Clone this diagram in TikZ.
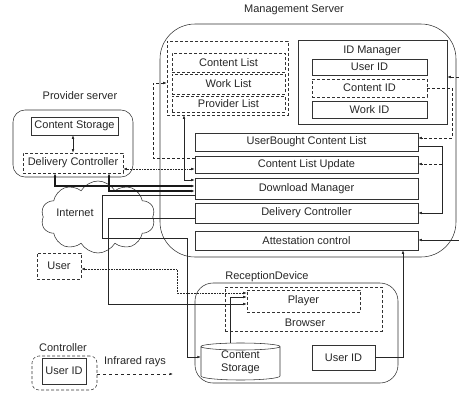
\documentclass[tikz,border=0pt]{standalone}
\usepackage{fontspec}
\setmainfont{Liberation Sans}
\usetikzlibrary{arrows.meta,shapes.symbols}
\begin{document}
\begin{tikzpicture}[x=1pt,y=-1pt,
  font=\fontsize{11}{12}\selectfont,
  every node/.style={text=black!85},
  box/.style={draw=black!80,line width=0.55pt,inner sep=0pt},
  dbox/.style={box,densely dashed},
  rbox/.style={box,rounded corners=#1},
  lbl/.style={inner sep=0pt},
  conn/.style={draw=black!85,line width=0.55pt},
  heavy/.style={draw=black!90,line width=1.1pt},
  tip/.style={-{Latex[length=3.5pt,width=2.6pt]}},
  tips/.style={{Latex[length=3.5pt,width=2.6pt]}-{Latex[length=3.5pt,width=2.6pt]}}]
\useasboundingbox (0,0) rectangle (459,392);

% ---------- Management server ----------
\node[lbl] (mslbl) at (294,10) {Management Server};
\node[rbox=35pt, minimum width=296pt, minimum height=233pt] (mgmt) at (308,140.5) {};

\node[dbox, minimum width=121pt, minimum height=74pt] (lists) at (227.5,78) {};
\node[dbox, minimum width=113pt, minimum height=19pt] (CL) at (228.5,62.5) {Content List};
\node[dbox, minimum width=113pt, minimum height=20pt] (WL) at (228.5,84) {Work List};
\node[dbox, minimum width=113pt, minimum height=16pt] (PL) at (228.5,104) {Provider List};

\node[box, minimum width=149pt, minimum height=84pt] (idm) at (372.5,82) {};
\node[lbl] (idmlbl) at (372,51) {ID Manager};
\node[box, minimum width=115pt, minimum height=16pt] (UID) at (369.5,67) {User ID};
\node[dbox, minimum width=115pt, minimum height=18pt] (CID) at (369.5,88) {Content ID};
\node[box, minimum width=115pt, minimum height=17pt] (WID) at (369.5,109.5) {Work ID};

\node[box, minimum width=223pt, minimum height=18pt] (UBCL) at (306.5,142) {UserBought Content List};
\node[box, minimum width=223pt, minimum height=17pt] (CLU) at (306.5,164.5) {Content List Update};
\node[box, minimum width=223pt, minimum height=21pt] (DM) at (306.5,188.5) {Download Manager};
\node[box, minimum width=223pt, minimum height=20pt] (MDC) at (306.5,213) {Delivery Controller};
\node[box, minimum width=223pt, minimum height=19pt] (AC) at (306.5,240.5) {Attestation control};

% ---------- Provider server ----------
\node[lbl] (provlbl) at (80,96) {Provider server};
\node[rbox=12pt, minimum width=120pt, minimum height=67pt] (prov) at (73,143.5) {};
\node[box, minimum width=87pt, minimum height=18pt] (CS) at (74.5,126) {Content Storage};
\node[dbox, minimum width=100pt, minimum height=20pt] (PDC) at (73,163) {Delivery Controller};

% ---------- Internet ----------
\node[cloud, draw=black!80, line width=0.55pt, cloud puffs=10, cloud puff arc=120,
      aspect=1.6, minimum width=114pt, minimum height=72pt, inner sep=0pt] (net) at (98,217) {};
\node[lbl] (netlbl) at (75,213) {Internet};

% ---------- User ----------
\node[dbox, minimum width=44pt, minimum height=26pt] (User) at (59,266) {User};

% ---------- Reception device ----------
\node[lbl] (rdlbl) at (267,277) {ReceptionDevice};
\node[rbox=18pt, minimum width=203pt, minimum height=100pt] (recv) at (296.5,333) {};
\node[dbox, minimum width=157pt, minimum height=44pt] (browser) at (303.5,309) {};
\node[lbl] (brlbl) at (305,323) {Browser};
\node[dbox, minimum width=113pt, minimum height=22pt] (player) at (303.5,301) {Player};
% content storage drawn as a cylinder
\draw[black!80, line width=0.55pt]
  (201,346.5) arc[start angle=180, end angle=360, x radius=39.5pt, y radius=3.5pt]
  arc[start angle=0, end angle=180, x radius=39.5pt, y radius=3.5pt]
  -- (201,376) arc[start angle=180, end angle=360, x radius=39.5pt, y radius=4pt]
  -- (280,346.5);
\node[lbl, minimum width=79pt, minimum height=38pt, align=center,
      font=\fontsize{11}{13}\selectfont] (rcs) at (240.5,362) {Content\\Storage};
\node[box, minimum width=63pt, minimum height=25pt] (ruid) at (343.5,357.5) {User ID};

% ---------- Controller ----------
\node[lbl] (ctrllbl) at (63,348) {Controller};
\node[rbox=7pt, densely dashed, minimum width=65pt, minimum height=34pt] (ctrl) at (64.5,373) {};
\node[box, minimum width=44pt, minimum height=26pt] (cuid) at (64,371) {User ID};
\node[lbl] (irlbl) at (135,362) {Infrared rays};
\coordinate (irend) at (173,374);

% ---------- Connectors ----------
% provider server
\draw[conn,tips] (CS.south -| PDC.north) -- (PDC.north);
\draw[heavy,tips] (PDC.south -| 55,0) -- (55,186) -- (DM.west |- 0,186);
\draw[heavy,tips] (PDC.south -| 109,0) -- (109,191) -- (DM.west |- 0,191);
\draw[conn,densely dotted,tips] (PDC.east |- 0,169) -- (CLU.west |- 0,169);

% inside the management server, left side
\draw[conn,densely dashed,tip] (CLU.west |- 0,158) -- (153,158) -- (153,83) -- (lists.west |- 0,83);
\draw[conn,tips] (lists.south -| 184,0) -- (184,180) -- (DM.west |- 0,180);

% download manager to content storage
\draw[conn,tip] (DM.west |- 0,195) -- (102,195) -- (102,238) -- (187,238) -- (187,357) -- (rcs.west |- 0,357);
% delivery controller to player
\draw[conn,tip] (MDC.west |- 0,218) -- (108,218) -- (108,304) -- (player.west |- 0,304);
% user and player
\draw[conn,densely dotted,tips] (User.east |- 0,269) -- (177,269) -- (177,293) -- (player.west |- 0,293);
% content storage to player
\draw[conn,tip] (rcs.north -| 230,0) -- (230,297) -- (player.west |- 0,297);
% reception user id to attestation
\draw[conn,tip] (ruid.east) -- (403,357.5) -- (AC.south -| 403,0);

% right side
\coordinate (inA) at (459,77);
\coordinate (inB) at (459,240);
\draw[conn,densely dashed,tip] (inA) -- (idm.east |- inA);
\draw[conn,tip] (inB) -- (AC.east |- inB);
\draw[conn,densely dashed,tip] (CID.east) -- (452,88) -- (452,138) -- (UBCL.east |- 0,138);
\coordinate (bus) at (442,164);
\draw[conn,tip] (UBCL.east |- 0,146) -- (442,146) -- (442,213) -- (MDC.east);
\draw[conn,densely dashed,tip] (bus) -- (CLU.east |- bus);

% infrared link
\draw[conn,dashed,tip] (ctrl.east |- irend) -- (irend);
\end{tikzpicture}
\end{document}
